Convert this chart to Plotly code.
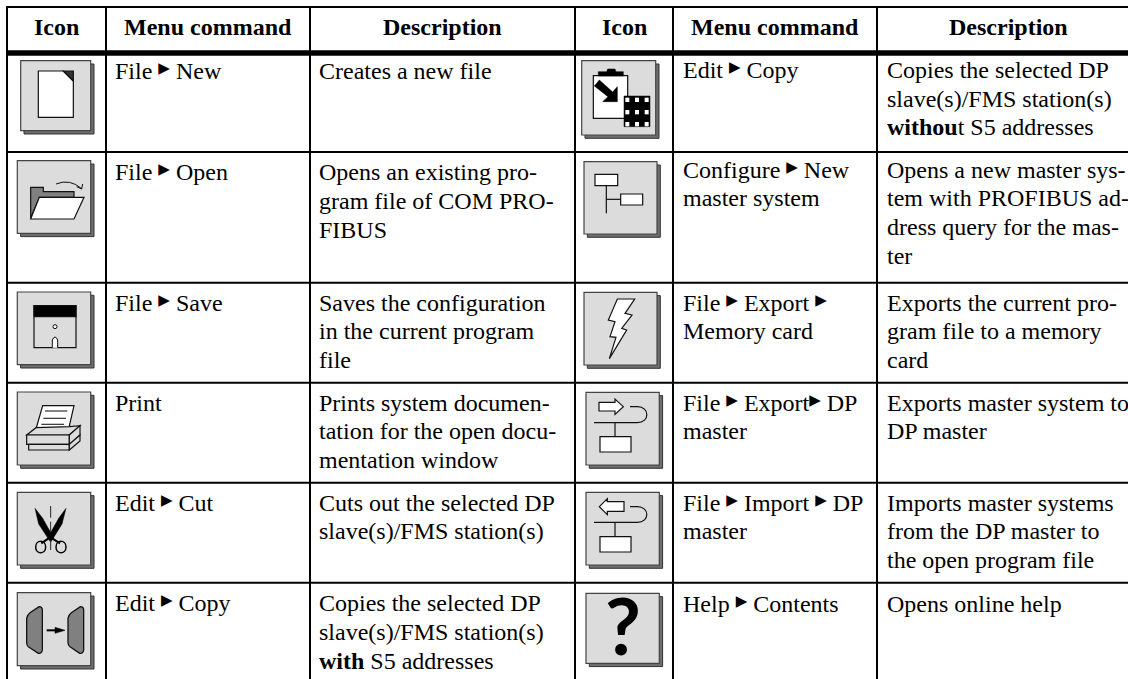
import plotly.graph_objects as go

W, H = 1128, 679
TRI = '<span style="font-family:DejaVu Sans;font-size:15px;baseline-shift:6px">\u25b6</span>'
headers = ["Icon", "Menu command", "Description", "Icon", "Menu command", "Description"]
menu_left = [
    [f"File {TRI} New"], [f"File {TRI} Open"], [f"File {TRI} Save"], ["Print"],
    [f"Edit {TRI} Cut"], [f"Edit {TRI} Copy"],
]
desc_left = [
    ["Creates a new file"],
    ["Opens an existing pro-", "gram file of COM PRO-", "FIBUS"],
    ["Saves the configuration", "in the current program", "file"],
    ["Prints system documen-", "tation for the open docu-", "mentation window"],
    ["Cuts out the selected DP", "slave(s)/FMS station(s)"],
    ["Copies the selected DP", "slave(s)/FMS station(s)", "<b>with</b> S5 addresses"],
]
menu_right = [
    [f"Edit {TRI} Copy"], [f"Configure {TRI} New", "master system"],
    [f"File {TRI} Export {TRI}", "Memory card"], [f"File {TRI} Export{TRI} DP", "master"],
    [f"File {TRI} Import {TRI} DP", "master"], [f"Help {TRI} Contents"],
]
desc_right = [
    ["Copies the selected DP", "slave(s)/FMS station(s)", "<b>withou</b>t S5 addresses"],
    ["Opens a new master sys-", "tem with PROFIBUS ad-", "dress query for the mas-", "ter"],
    ["Exports the current pro-", "gram file to a memory", "card"],
    ["Exports master system to", "DP master"],
    ["Imports master systems", "from the DP master to", "the open program file"],
    ["Opens online help"],
]
col_lines = [7, 106, 310, 575, 673, 877]
row_lines = [152, 282.7, 382.7, 482.7, 582.7]
head_cx = [56.5, 208, 442.5, 624, 775, 1008]
text_x = [115, 319, 683, 887]
base_left = [79, 180.7, 311, 411, 511, 611.7]
base_right = [78.5, 178, 311, 411, 511, 612]
PITCH = 28.7
FONT = "Liberation Serif, Times New Roman, serif"
FS = 24
OFF_Y = 23.5
HEAD_OFF_Y = 24.5
OFF_X = 2

shapes, ann = [], []

def line(x0, y0, x1, y1, w=2, c="#000"):
    shapes.append(dict(type="line", x0=x0, y0=y0, x1=x1, y1=y1, xref="x", yref="y", line=dict(color=c, width=w)))

def path(d, fill=None, w=1.2, c="#111"):
    s = dict(type="path", path=d, xref="x", yref="y", line=dict(color=c, width=w))
    if fill:
        s["fillcolor"] = fill
    shapes.append(s)

def Z(o, pts, close=True):
    p = [(o[0] + x / 3, o[1] + y / 3) for x, y in pts]
    d = "M" + " L".join(f"{x:.2f},{y:.2f}" for x, y in p)
    return d + (" Z" if close else "")

def ZR(o, x0, y0, x1, y1):
    return Z(o, [(x0, y0), (x1, y0), (x1, y1), (x0, y1)])

def ZC(o, cmds):
    out = []
    for c in cmds:
        pts = " ".join(f"{o[0] + c[i] / 3:.2f},{o[1] + c[i + 1] / 3:.2f}" for i in range(1, len(c), 2))
        out.append(c[0] + pts)
    return " ".join(out)

def box(x0, y0, x1, y1):
    s = 3.3
    path(f"M{x0 + s},{y0 + s} L{x1 + s},{y0 + s} L{x1 + s},{y1 + s} L{x0 + s},{y1 + s} Z", "#6e6e6e", 1, "#333")
    path(f"M{x0},{y0} L{x1},{y0} L{x1},{y1} L{x0},{y1} Z", "#dcdcdc", 1.2, "#444")

# Table rules
LEFT = col_lines[0] - 1
line(LEFT, 7, W, 7)
line(LEFT, 53, W, 53, 5.5)
for y in row_lines:
    line(LEFT, y, W, y)
for x in col_lines:
    line(x, 6, x, H)

# ---- left icons
box(20.7, 60.7, 90.7, 130.7)
o = (0, 0)
path(Z(o, [(115, 213), (190, 213), (220, 243), (220, 352), (115, 352)]), "#fff")
path(Z(o, [(190, 213), (220, 213), (220, 243)]), "#333")

box(17.3, 160.7, 90.7, 233.3)
path(Z(o, [(92, 562), (130, 562), (130, 575), (222, 575), (222, 592), (118, 592), (92, 655)]), "#808080")
path(Z(o, [(118, 592), (252, 592), (222, 657), (92, 657)]), "#fff")
path(ZC(o, [("M", 168, 552), ("Q", 210, 535, 245, 566)]), None, 1)
path(Z(o, [(230, 560), (245, 567), (248, 552)], False), None, 1)

box(17.3, 292, 90.7, 364.7)
o = (0, 220)
path(ZR(o, 102, 257, 228, 383), "#dcdcdc")
path(ZR(o, 102, 257, 228, 290), "#000")
path(ZC(o, [("M", 159, 320), ("Q", 159, 314, 165, 314), ("Q", 171, 314, 171, 320), ("Q", 171, 326, 165, 326), ("Q", 159, 326, 159, 320), ("L", 159, 320)]), "#fff", 1)
path(ZC(o, [("M", 157, 383), ("L", 157, 360), ("Q", 165, 342, 173, 360), ("L", 173, 383)]), "#fff", 1)

box(17.3, 392, 90.7, 465)
o = (20, 385)
path(Z(o, [(68, 62), (162, 62), (146, 132), (48, 132)]), "#fff")
for y, a, b in [(78, 75, 142), (100, 70, 138), (118, 64, 132)]:
    path(Z(o, [(a, y), (b, y)], False), None, 1.2, "#333")
path(Z(o, [(20, 150), (48, 128), (148, 125), (180, 122), (148, 150)]), "#dcdcdc")
path(ZR(o, 20, 150, 148, 178), "#dcdcdc")
path(ZR(o, 26, 178, 148, 195), "#dcdcdc")
path(Z(o, [(148, 150), (180, 122), (180, 150), (148, 178)]), "#dcdcdc")
path(Z(o, [(148, 195), (180, 168), (180, 150), (148, 178)]), "#dcdcdc")

box(17.3, 492.3, 90.7, 565)
o = (0, 450)
path(Z(o, [(105, 175), (128, 205), (160, 262), (150, 274), (116, 222)]), "#000", 0.5, "#000")
path(Z(o, [(198, 175), (186, 222), (154, 274), (144, 262), (176, 205)]), "#000", 0.5, "#000")
path(ZC(o, [("M", 150, 262), ("L", 124, 280)]), None, 2, "#000")
path(ZC(o, [("M", 152, 262), ("L", 180, 280)]), None, 2, "#000")
for cx in (122, 183):
    path(ZC(o, [("M", cx - 15, 291), ("C", cx - 15, 268, cx + 15, 268, cx + 15, 291), ("C", cx + 15, 314, cx - 15, 314, cx - 15, 291), ("L", cx - 15, 291)]), None, 1.5, "#000")
for a, b in [(168, 203), (215, 245), (270, 300)]:
    path(Z(o, [(152, a), (152, b)], False), None, 1, "#222")

box(17.3, 592.7, 90.7, 665.7)
o = (0, 450)
path(ZC(o, [("M", 117, 470), ("Q", 127, 470, 127, 480), ("L", 127, 600), ("Q", 125, 612, 115, 610), ("L", 85, 590), ("Q", 80, 586, 80, 578), ("L", 80, 505), ("Q", 82, 494, 90, 488), ("Z",)]), "#808080", 1.3)
path(ZC(o, [("M", 241, 470), ("Q", 251, 470, 251, 480), ("L", 251, 600), ("Q", 249, 612, 239, 610), ("L", 210, 590), ("Q", 204, 586, 204, 578), ("L", 204, 505), ("Q", 206, 494, 214, 488), ("Z",)]), "#808080", 1.3)
path(Z(o, [(140, 541), (172, 541)], False), None, 2, "#000")
path(Z(o, [(165, 532), (195, 541), (165, 550)]), "#000", 0.5, "#000")

# ---- right icons
box(581.7, 60.7, 655.7, 135)
o = (560, 0)
path(ZR(o, 100, 227, 203, 355), "#fff")
path(Z(o, [(115, 215), (140, 215), (143, 207), (165, 207), (168, 215), (190, 215), (190, 228), (115, 228)]), "#000", 0.5, "#000")
path(Z(o, [(103, 258), (118, 240), (158, 276), (172, 260), (172, 305), (128, 305), (144, 290)]), "#000", 0.5, "#000")
path(ZR(o, 192, 288, 270, 380), "#000", 0.5, "#000")
for yy in (293, 330, 366):
    for xx in (196, 225, 254):
        path(ZR(o, xx, yy, xx + 12, yy + 13), "#fff", 0, "#fff")

box(584, 161.7, 657, 234)
path(ZR(o, 105, 523, 173, 557), "#fff")
path(Z(o, [(139, 557), (139, 640)], False))
path(Z(o, [(139, 598), (182, 598)], False))
path(ZR(o, 182, 582, 248, 615), "#fff")

box(584, 292.3, 657, 365)
o = (560, 220)
path(Z(o, [(172, 237), (224, 237), (195, 280), (216, 285), (185, 325), (200, 330), (148, 416), (168, 352), (150, 350), (165, 305), (145, 300)]), "#fff")

def loop(o, y_line, y_top, y_rect):
    path(ZC(o, [("M", 102, y_line), ("L", 232, y_line), ("C", 270, y_line, 270, y_top, 232, y_top), ("L", 210, y_top)]))
    path(Z(o, [(165, y_line), (165, y_rect)], False))
    path(ZR(o, 120, y_rect, 213, y_rect + 46), "#fff")

box(586, 392.3, 659.3, 465)
path(Z(o, [(117, 547), (165, 547), (165, 537), (190, 560), (165, 583), (165, 573), (117, 573)]), "#fff")
loop(o, 608, 560, 650)

box(586, 492.3, 659.3, 565)
o = (560, 450)
path(Z(o, [(192, 155), (142, 155), (142, 146), (118, 170), (142, 194), (142, 184), (192, 184)]), "#fff")
loop(o, 217, 170, 260)

box(586, 593.3, 659.3, 663.3)

def text(x, y, t, anchor="left", size=FS):
    ann.append(dict(x=x, y=y, xref="x", yref="y", text=t, showarrow=False, xanchor=anchor, yanchor="top",
                    align=anchor, font=dict(family=FONT, size=size, color="#000")))

for cx, h in zip(head_cx, headers):
    text(cx, 36 - HEAD_OFF_Y, f"<b>{h}</b>", "center")
for k, (cells, bases) in enumerate([(menu_left, base_left), (desc_left, base_left), (menu_right, base_right), (desc_right, base_right)]):
    for r, lines in enumerate(cells):
        for i, t in enumerate(lines):
            text(text_x[k] - OFF_X, bases[r] + i * PITCH - OFF_Y, t)

ann.append(dict(x=623, y=625, xref="x", yref="y", text="<b>?</b>", showarrow=False, xanchor="center", yanchor="middle",
                font=dict(family="Lato, Liberation Sans, Arial, sans-serif", size=78, color="#000")))

fig = go.Figure()
fig.update_layout(
    width=W, height=H, margin=dict(l=0, r=0, t=0, b=0), paper_bgcolor="#fff", plot_bgcolor="#fff",
    xaxis=dict(range=[0, W], visible=False, fixedrange=True),
    yaxis=dict(range=[H, 0], visible=False, fixedrange=True),
    shapes=shapes, annotations=ann, showlegend=False,
)
fig.write_html("out.html", config=dict(displayModeBar=False),
               post_script="document.body.style.margin='0';document.body.style.overflow='hidden';")
